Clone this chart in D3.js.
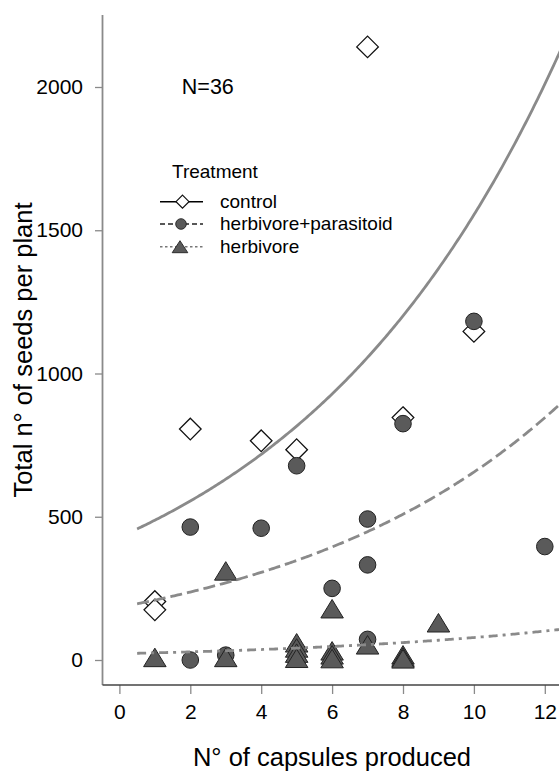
<!DOCTYPE html>
<html>
<head>
<meta charset="utf-8">
<script src="https://cdn.jsdelivr.net/npm/d3@7"></script>
<style>
  html, body { margin: 0; padding: 0; background: #fff; }
  svg { display: block; }
  text { font-family: "Liberation Sans", Arial, Helvetica, sans-serif; fill: #000; }
</style>
</head>
<body>
<svg id="chart" width="559" height="771"></svg>
<script>
// Seeds per plant versus capsules produced, by treatment
const controlX = [1, 1, 2, 4, 5, 7, 8, 10];
const controlY = [204, 175, 806, 765, 734, 2140, 846, 1147];

const hpX = [2, 2, 3, 4, 5, 6, 7, 7, 7, 8, 10, 12];
const hpY = [464, 0, 17, 460, 678, 250, 492, 332, 72, 825, 1182, 396];

const herbX = [1, 3, 3, 5, 5, 5, 5, 6, 6, 6, 6, 7, 8, 8, 8, 9];
const herbY = [9, 311, 9, 60, 42, 24, 6, 179, 32, 18, 5, 53, 18, 10, 4, 130];

// Fitted exponential curves: seeds = a * exp(b * capsules)
const fitIntercept = [429, 184, 22];
const fitSlope = [0.1287, 0.1271, 0.127];
const fitRange = [0.5, 12.5];

const xTicks = [0, 2, 4, 6, 8, 10, 12];
const yTicks = [0, 500, 1000, 1500, 2000];

const legendTitle = "Treatment";
const legendLabels = ["control", "herbivore+parasitoid", "herbivore"];
const sampleNote = "N=36";
const xTitle = "N\u00B0 of capsules produced";
const yTitle = "Total n\u00B0 of seeds per plant";

const svg = d3.select("#chart");
const x = d3.scaleLinear().domain([0, 12]).range([119.4, 544.8]);
const y = d3.scaleLinear().domain([0, 2000]).range([660, 87]);

const axisX0 = 102.5, axisY0 = 685;
const grey = "#8a8a8a";

// marker shapes
function diamondPath(s) {
  return `M0,${-s}L${s},0L0,${s}L${-s},0Z`;
}
function trianglePath(w, h) {
  return `M0,${-h / 2}L${w / 2},${h / 2}L${-w / 2},${h / 2}Z`;
}

// axes
const yAxis = d3.axisLeft(y).tickValues(yTicks).tickSize(7.5).tickPadding(12).tickFormat(d3.format("d"));
const gy = svg.append("g").attr("transform", `translate(${axisX0},0)`).call(yAxis);
gy.select(".domain").remove();
gy.selectAll(".tick line").attr("stroke", grey).attr("stroke-width", 1.3);
gy.selectAll(".tick text").style("font-size", "21px").attr("fill", "#000");

const xAxis = d3.axisBottom(x).tickValues(xTicks).tickSize(9).tickPadding(9.6);
const gx = svg.append("g").attr("transform", `translate(0,${axisY0})`).call(xAxis);
gx.select(".domain").remove();
gx.selectAll(".tick line").attr("stroke", grey).attr("stroke-width", 1.3);
gx.selectAll(".tick text").style("font-size", "21px").attr("fill", "#000");

svg.append("line").attr("x1", axisX0).attr("x2", axisX0).attr("y1", 15).attr("y2", axisY0)
  .attr("stroke", grey).attr("stroke-width", 1.8);
svg.append("line").attr("x1", axisX0).attr("x2", 600).attr("y1", axisY0).attr("y2", axisY0)
  .attr("stroke", "#444").attr("stroke-width", 1.5);

// points: control, then herbivore+parasitoid, then herbivore
const pts = svg.append("g");
pts.selectAll(".ctrl").data(d3.zip(controlX, controlY)).join("path")
  .attr("class", "ctrl")
  .attr("transform", d => `translate(${x(d[0])},${y(d[1])})`)
  .attr("d", diamondPath(10.8))
  .attr("fill", "#fff").attr("stroke", "#111").attr("stroke-width", 1.3);

pts.selectAll(".hp").data(d3.zip(hpX, hpY)).join("circle")
  .attr("class", "hp")
  .attr("cx", d => x(d[0])).attr("cy", d => y(d[1])).attr("r", 8.3)
  .attr("fill", "#5a5a5a").attr("stroke", "#222").attr("stroke-width", 1);

pts.selectAll(".herb").data(d3.zip(herbX, herbY)).join("path")
  .attr("class", "herb")
  .attr("transform", d => `translate(${x(d[0])},${y(d[1])})`)
  .attr("d", trianglePath(22.5, 18.5))
  .attr("fill", "#5a5a5a").attr("stroke", "#222").attr("stroke-width", 1);

// fitted curves
const curveDash = [null, "12,5", "9,5,3,5"];
const line = d3.line().x(d => x(d[0])).y(d => y(d[1]));
const xs = d3.range(fitRange[0], fitRange[1] + 0.001, 0.05);
fitIntercept.forEach((a, i) => {
  const b = fitSlope[i];
  svg.append("path")
    .datum(xs.map(v => [v, a * Math.exp(b * v)]))
    .attr("d", line)
    .attr("fill", "none")
    .attr("stroke", grey)
    .attr("stroke-width", 2.8)
    .attr("stroke-dasharray", curveDash[i]);
});

// annotation
svg.append("text").attr("x", 181.8).attr("y", 94.3).style("font-size", "21.5px").text(sampleNote);

// legend
const lg = svg.append("g");
lg.append("text").attr("x", 172).attr("y", 177.5).style("font-size", "19px").text(legendTitle);
const rowY = [201.7, 224, 246.7];
const legStroke = ["#000", "#222", "#777"];
const legDash = [null, "5,3", "2.5,2.5"];
legendLabels.forEach((lab, i) => {
  lg.append("line").attr("x1", 160).attr("x2", 203).attr("y1", rowY[i]).attr("y2", rowY[i])
    .attr("stroke", legStroke[i]).attr("stroke-width", 1.4).attr("stroke-dasharray", legDash[i]);
  if (i === 0) {
    lg.append("path").attr("transform", `translate(182.5,${rowY[i]})`).attr("d", diamondPath(6.5))
      .attr("fill", "#fff").attr("stroke", "#111").attr("stroke-width", 1.2);
  } else if (i === 1) {
    lg.append("circle").attr("cx", 181).attr("cy", rowY[i]).attr("r", 5.3)
      .attr("fill", "#5a5a5a").attr("stroke", "#222").attr("stroke-width", 0.9);
  } else {
    lg.append("path").attr("transform", `translate(180,${rowY[i]})`).attr("d", trianglePath(15.6, 12))
      .attr("fill", "#5a5a5a").attr("stroke", "#222").attr("stroke-width", 0.9);
  }
  lg.append("text").attr("x", 220).attr("y", rowY[i] + 6).style("font-size", "19px").text(lab);
});

// axis titles
svg.append("text").attr("x", 332).attr("y", 766).attr("text-anchor", "middle")
  .style("font-size", "25.5px").text(xTitle);
svg.append("text").attr("transform", "translate(32,350) rotate(-90)").attr("text-anchor", "middle")
  .style("font-size", "25.5px").text(yTitle);
</script>
</body>
</html>
